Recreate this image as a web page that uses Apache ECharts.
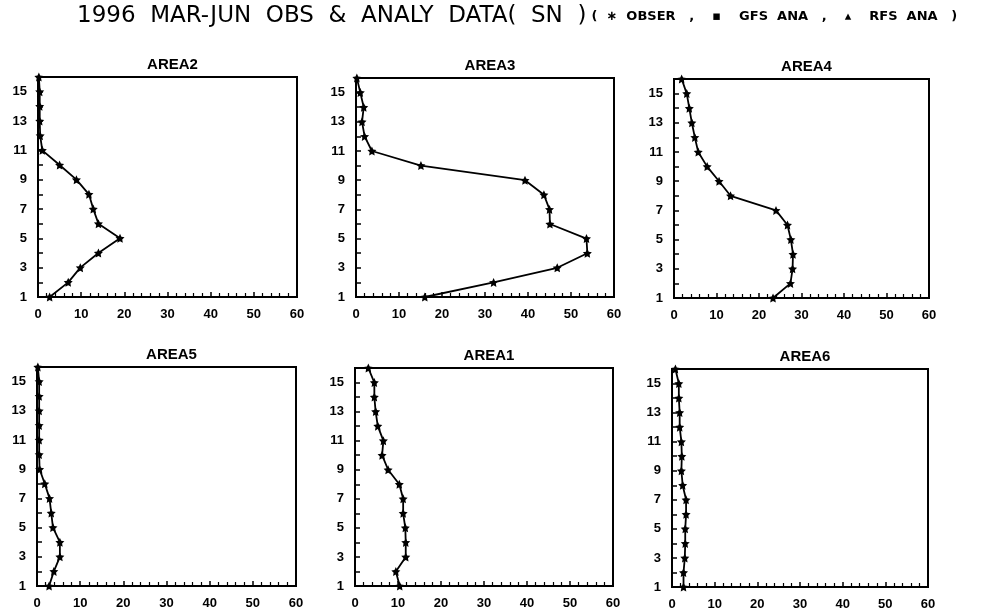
<!DOCTYPE html>
<html><head><meta charset="utf-8">
<script src="https://cdn.jsdelivr.net/npm/echarts@6/dist/echarts.min.js"></script>
<style>html,body{margin:0;padding:0;background:#fff}#c{width:981px;height:613px}</style>
</head><body><div id="c"></div>
<script>
const levels = [1,2,3,4,5,6,7,8,9,10,11,12,13,14,15,16];
const panelNames = ['AREA2','AREA3','AREA4','AREA5','AREA1','AREA6'];
const area2 = [2.7,7.0,9.8,14.0,19.0,14.0,12.8,11.8,8.9,5.0,1.0,0.5,0.4,0.4,0.4,0.2];
const area3 = [16.0,32.0,46.8,53.8,53.6,45.1,45.0,43.7,39.3,15.1,3.7,2.0,1.4,1.8,1.0,0.2];
const area4 = [23.3,27.4,27.9,28.0,27.5,26.7,24.0,13.3,10.6,7.8,5.7,4.9,4.2,3.6,3.0,1.8];
const area5 = [2.8,3.9,5.3,5.3,3.7,3.3,2.9,1.8,0.6,0.5,0.5,0.5,0.5,0.5,0.5,0.2];
const area1 = [10.4,9.5,11.8,11.8,11.7,11.2,11.2,10.3,7.7,6.3,6.6,5.3,4.8,4.5,4.5,3.1];
const area6 = [2.7,2.7,3.0,3.1,3.1,3.3,3.3,2.5,2.2,2.3,2.2,1.8,1.8,1.6,1.6,0.8];
const panelData = [area2, area3, area4, area5, area1, area6];
const xTicks = [0,10,20,30,40,50,60];
const yTickLabels = [1,3,5,7,9,11,13,15];

const grids = [
  {left:38, top:77, width:259, height:220},
  {left:356, top:78, width:258, height:219},
  {left:674, top:79, width:255, height:219},
  {left:37, top:367, width:259, height:219},
  {left:355, top:368, width:258, height:218},
  {left:672, top:369, width:256, height:218}
];
const FONT = 'Liberation Sans';
const star = 'path://M0,-10 L2.9,-4 9.5,-3.1 4.7,1.5 5.9,8.1 0,5 -5.9,8.1 -4.7,1.5 -9.5,-3.1 -2.9,-4 Z';

const option = {
  backgroundColor:'#fff',
  animation:false,
  title: [{
    text:'{a|1996  MAR-JUN  OBS  &  ANALY  DATA(  SN  )} {b|(  ∗  OBSER   ,    ▪    GFS  ANA   ,    ▴    RFS  ANA   )}',
    left:72, top:0,
    textStyle:{rich:{
      a:{fontFamily:'DejaVu Sans', fontSize:23, fontWeight:'normal', color:'#000'},
      b:{fontFamily:'DejaVu Sans', fontSize:13, color:'#000', fontWeight:'bold'}
    }}
  }].concat(panelNames.map((n,i)=>({
    text:n, left:grids[i].left+grids[i].width/2, top:grids[i].top-25, textAlign:'center',
    textStyle:{fontFamily:FONT, fontSize:15, fontWeight:'bold', color:'#000'}
  }))),
  grid: grids.map(g=>Object.assign({show:true, borderColor:'#000', borderWidth:2, containLabel:false}, g)),
  xAxis: grids.map((g,i)=>({
    gridIndex:i, type:'value', min:xTicks[0], max:xTicks[xTicks.length-1], interval:10,
    axisLine:{show:true, lineStyle:{color:'#000', width:2}},
    axisTick:{show:true, inside:true, length:5, lineStyle:{color:'#000', width:1.5}},
    minorTick:{show:true, splitNumber:5, length:4, lineStyle:{color:'#000', width:1.2}},
    splitLine:{show:false},
    axisLabel:{fontFamily:FONT, fontSize:13, fontWeight:'bold', color:'#000', margin:11,
      formatter:v=>xTicks.includes(v)?String(v):''}
  })),
  yAxis: grids.map((g,i)=>({
    gridIndex:i, type:'value', min:levels[0], max:levels[levels.length-1], interval:1,
    axisLine:{show:true, lineStyle:{color:'#000', width:2}},
    axisTick:{show:true, inside:true, length:5, lineStyle:{color:'#000', width:1.5}},
    splitLine:{show:false},
    axisLabel:{fontFamily:FONT, fontSize:13, fontWeight:'bold', color:'#000', margin:11,
      formatter:v=>yTickLabels.includes(v)?String(v):''}
  })),
  series: panelData.map((d,i)=>({
    type:'line', xAxisIndex:i, yAxisIndex:i,
    data:d.map((v,k)=>[v, levels[k]]),
    symbol:star, symbolSize:9, showSymbol:true,
    lineStyle:{color:'#000', width:1.8},
    itemStyle:{color:'#000'},
    clip:false
  }))
};
echarts.init(document.getElementById('c')).setOption(option);
</script></body></html>
